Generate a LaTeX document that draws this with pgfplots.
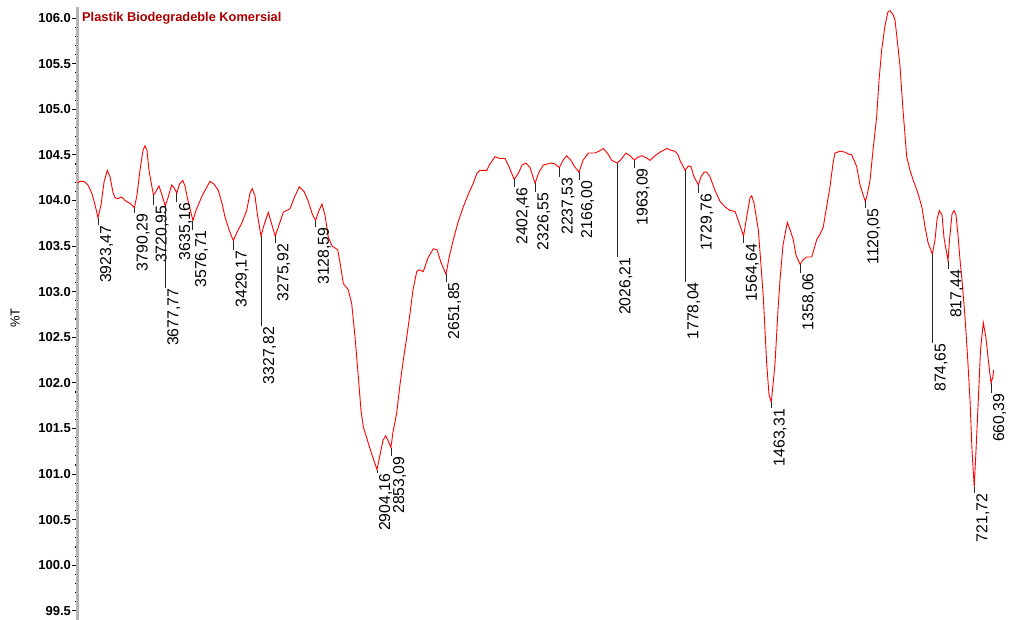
\documentclass[border=0pt]{standalone}
\usepackage{fontspec}
\setmainfont{Liberation Sans}
\usepackage{pgfplots}
\usepackage{pgfplotstable}
\pgfplotsset{compat=1.18}
\definecolor{curve}{RGB}{255,0,0}
\definecolor{titlered}{RGB}{170,0,0}
\definecolor{axgray}{RGB}{180,180,180}
\newcommand{\pkfont}{\fontsize{15.8}{15.8}\selectfont}
\newcommand{\pk}[4]{%
  \draw[black!85, line width=0.8pt] (axis cs:#1,#2) -- (axis cs:#1,#3);
  \node[rotate=90, anchor=north east, inner xsep=0.5pt, inner ysep=2pt, font=\pkfont] at (axis cs:#1,#3) {#4};}

\pgfplotstableread{
w v
3998 104.19
3989 104.21
3975 104.21
3960 104.17
3945 104.07
3934 103.95
3923.5 103.81
3912.5 103.95
3901.5 104.20
3889.5 104.33
3879.6 104.26
3868.7 104.09
3861.4 104.03
3850.4 104.02
3836.9 104.04
3824.8 104.00
3813.9 103.98
3802.9 103.96
3790.3 103.92
3781 104.06
3770 104.33
3759 104.55
3751.8 104.60
3744.4 104.55
3737.1 104.33
3721 104.06
3715.2 104.08
3700.6 104.16
3689.6 104.06
3677.8 103.94
3667.7 104.03
3654.2 104.17
3645.8 104.14
3635.2 104.08
3625.7 104.18
3614 104.22
3605.6 104.16
3594.6 104.00
3576.7 103.78
3565.4 103.89
3544.6 104.04
3532.5 104.11
3514.2 104.21
3499.6 104.18
3483.9 104.11
3470.4 103.97
3459.4 103.82
3444.8 103.68
3429.2 103.56
3415.6 103.65
3398.4 103.75
3380.1 103.89
3368.1 104.08
3359.7 104.13
3349.8 104.05
3340.7 103.84
3327.8 103.61
3316.9 103.73
3301.2 103.87
3287.7 103.73
3275.9 103.61
3262.1 103.73
3246.4 103.87
3221.9 103.91
3203.6 104.05
3187.9 104.15
3170.8 104.10
3155 103.99
3141.5 103.86
3128.6 103.78
3115.9 103.89
3105 103.96
3094 103.84
3082 103.60
3068.5 103.50
3047.6 103.46
3039.2 103.32
3027.1 103.09
3008.9 103.02
2996.5 102.87
2984.4 102.51
2972.3 102.07
2962.5 101.70
2954.1 101.52
2935.8 101.34
2922.3 101.21
2904.2 101.05
2893 101.21
2882.1 101.37
2872.2 101.42
2863.8 101.37
2853.1 101.29
2845.5 101.46
2832 101.67
2820 101.98
2807.9 102.25
2794.4 102.52
2783.4 102.76
2772.5 103.02
2758.9 103.22
2750.5 103.24
2734.8 103.22
2717.6 103.37
2698.3 103.47
2684.8 103.46
2670.1 103.32
2651.9 103.19
2640.9 103.37
2625.2 103.57
2608 103.76
2588.7 103.93
2571.5 104.06
2552.1 104.19
2538.6 104.30
2527.6 104.33
2503.1 104.33
2491.1 104.40
2472.8 104.48
2454.5 104.46
2436.3 104.46
2421.7 104.37
2402.5 104.23
2385.1 104.31
2374.2 104.39
2359.5 104.41
2344.9 104.36
2326.6 104.19
2312 104.31
2296.3 104.39
2265.6 104.41
2253.5 104.40
2237.5 104.36
2224.3 104.44
2210.8 104.49
2195.1 104.44
2184.1 104.38
2166 104.31
2151.3 104.44
2131.9 104.52
2107.4 104.52
2092.8 104.54
2077.1 104.57
2059.9 104.51
2046.4 104.44
2026.2 104.41
2012.4 104.45
1994.1 104.52
1979.5 104.49
1963.1 104.44
1953.9 104.47
1936.8 104.49
1921.1 104.47
1906.4 104.44
1888.2 104.49
1869.9 104.53
1845.4 104.57
1829.7 104.55
1815.1 104.54
1804.1 104.50
1796.8 104.44
1778 104.33
1766.5 104.38
1756.6 104.37
1745.7 104.26
1729.8 104.17
1720.1 104.26
1709.1 104.31
1699.2 104.31
1687.2 104.26
1668.9 104.11
1650.6 103.99
1632.4 103.93
1614.1 103.89
1595.8 103.88
1584.9 103.79
1564.6 103.61
1552 103.84
1541 104.03
1534.8 104.05
1526.4 103.97
1510.7 103.68
1500.8 103.29
1492.4 102.94
1480 102.21
1471.6 101.87
1463.3 101.79
1457 101.98
1449.7 102.21
1438.7 102.80
1431.4 103.13
1420.4 103.51
1404.7 103.76
1394.9 103.68
1382.8 103.57
1372.9 103.40
1358.1 103.30
1347.4 103.35
1333.8 103.38
1315.5 103.38
1297.3 103.57
1285.2 103.63
1273.2 103.71
1263.3 103.89
1248.7 104.15
1237.7 104.41
1230.4 104.52
1212.2 104.54
1193.9 104.53
1182.9 104.51
1169.4 104.50
1161 104.44
1151.1 104.37
1139.1 104.17
1120.1 103.99
1113.5 104.05
1102.5 104.22
1091.6 104.55
1078.1 104.92
1069.6 105.32
1059.8 105.65
1047.7 105.92
1036.8 106.07
1029.5 106.08
1018.5 106.04
1011.2 105.98
1003.9 105.78
992.9 105.47
981.9 104.99
968.4 104.48
956.4 104.33
944.3 104.22
930.8 104.11
919.8 104.00
912.5 103.92
901.5 103.71
890.6 103.54
874.7 103.41
865 103.57
857.7 103.79
849.3 103.89
839.4 103.84
832.1 103.59
817.4 103.34
812 103.57
802.9 103.85
795.5 103.89
788.3 103.84
781 103.62
773.7 103.35
766.4 103.13
755.4 102.72
746.3 102.30
737.1 101.81
729.8 101.26
721.7 100.86
715.2 101.26
706.8 101.81
698.8 102.36
688.5 102.66
678.7 102.49
670.3 102.25
660.4 102.00
653.1 102.07
651.3 102.14
}\spectrum

\begin{document}
\begin{tikzpicture}
\useasboundingbox (0,0) rectangle (1011pt,620pt);
\begin{axis}[
  at={(77.06pt,0pt)}, anchor=south west, scale only axis,
  width=916.8pt, height=612.86pt,
  xmin=650, xmax=4000, x dir=reverse,
  ymin=99.4, ymax=106.12,
  hide x axis,
  axis y line*=left,
  y axis line style={draw=axgray, line width=3pt},
  ytick={99.5,100,100.5,101,101.5,102,102.5,103,103.5,104,104.5,105,105.5,106},
  minor y tick num=4,
  tick align=outside,
  major tick length=5pt, minor tick length=2pt,
  every tick/.style={black, line width=1.1pt},
  yticklabel style={font=\bfseries\fontsize{13}{13}\selectfont, inner sep=1pt,
    /pgf/number format/.cd, fixed, fixed zerofill, precision=1, assume math mode=true},
  ylabel={\%T},
  ylabel style={at={(axis description cs:-0.0676,0.4928)}, anchor=center, font=\fontsize{13}{13}\selectfont},
  clip=false,
]
\addplot[color=curve, line width=0.9pt] table[x=w, y=v] {\spectrum};

\node[anchor=west, font=\bfseries\fontsize{12.8}{12.8}\selectfont, text=titlered, inner sep=0pt]
  at (axis description cs:0.0054,0.982) {Plastik Biodegradeble Komersial};

\pk{3923.47}{103.81}{103.73}{3923,47}
\pk{3790.29}{103.92}{103.86}{3790,29}
\pk{3720.95}{104.06}{103.95}{3720,95}
\pk{3677.77}{103.94}{103.04}{3677,77}
\pk{3635.16}{104.08}{103.98}{3635,16}
\pk{3576.71}{103.78}{103.68}{3576,71}
\pk{3429.17}{103.56}{103.46}{3429,17}
\pk{3327.82}{103.61}{102.62}{3327,82}
\pk{3275.92}{103.61}{103.53}{3275,92}
\pk{3128.59}{103.78}{103.71}{3128,59}
\pk{2904.16}{101.05}{101.01}{2904,16}
\pk{2853.09}{101.29}{101.20}{2853,09}
\pk{2651.85}{103.19}{103.11}{2651,85}
\pk{2402.46}{104.23}{104.15}{2402,46}
\pk{2326.55}{104.19}{104.09}{2326,55}
\pk{2237.53}{104.36}{104.26}{2237,53}
\pk{2166.00}{104.31}{104.22}{2166,00}
\pk{2026.21}{104.41}{103.38}{2026,21}
\pk{1963.09}{104.44}{104.36}{1963,09}
\pk{1778.04}{104.33}{103.11}{1778,04}
\pk{1729.76}{104.17}{104.08}{1729,76}
\pk{1564.64}{103.61}{103.53}{1564,64}
\pk{1463.31}{101.79}{101.72}{1463,31}
\pk{1358.06}{103.30}{103.21}{1358,06}
\pk{1120.05}{103.99}{103.92}{1120,05}
\pk{874.65}{103.41}{102.44}{874,65}
\pk{817.44}{103.34}{103.25}{817,44}
\pk{721.72}{100.86}{100.79}{721,72}
\pk{660.39}{102.00}{101.89}{660,39}
\end{axis}
\end{tikzpicture}
\end{document}
